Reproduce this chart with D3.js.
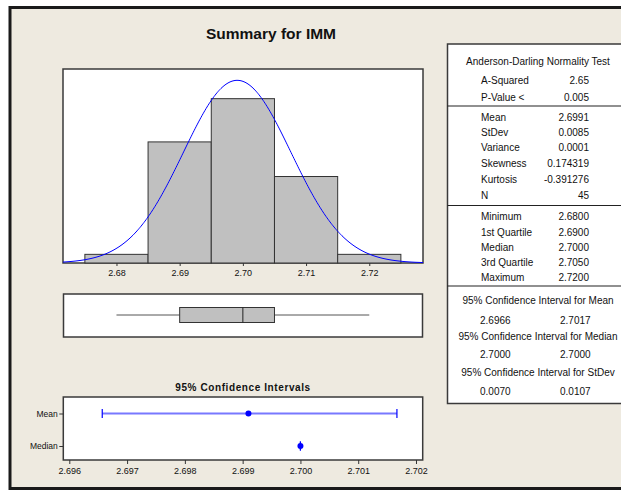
<!DOCTYPE html>
<html><head><meta charset="utf-8">
<script src="https://cdn.jsdelivr.net/npm/d3@7"></script>
<style>
html,body{margin:0;padding:0;background:#fff;}
text{font-family:"Liberation Sans",Arial,sans-serif;fill:#111;}
</style></head>
<body>
<svg id="chart" width="621" height="491"></svg>
<script>
// ---- data ----
const title = "Summary for IMM";
const binStarts = [2.675, 2.685, 2.695, 2.705, 2.715];
const binWidth = 0.01;
const binCounts = [1, 14, 19, 10, 1];
const histTicks = [2.68, 2.69, 2.70, 2.71, 2.72];
const meanVal = 2.6991, sdVal = 0.0085, nVal = 45;
const fiveNum = [2.68, 2.69, 2.70, 2.705, 2.72]; // min, Q1, median, Q3, max
const ciLabels = ["Mean", "Median"];
const ciCenters = [2.6991, 2.7000];
const ciLow = [2.69657, 2.7000];
const ciHigh = [2.70167, 2.7000];
const ciTicks = [2.696, 2.697, 2.698, 2.699, 2.700, 2.701, 2.702];
const adHeader = "Anderson-Darling Normality Test";
const adLabels = ["A-Squared", "P-Value <"];
const adValues = ["2.65", "0.005"];
const momLabels = ["Mean", "StDev", "Variance", "Skewness", "Kurtosis", "N"];
const momValues = ["2.6991", "0.0085", "0.0001", "0.174319", "-0.391276", "45"];
const qLabels = ["Minimum", "1st Quartile", "Median", "3rd Quartile", "Maximum"];
const qValues = ["2.6800", "2.6900", "2.7000", "2.7050", "2.7200"];
const ciTitles = ["95% Confidence Interval for Mean", "95% Confidence Interval for Median", "95% Confidence Interval for StDev"];
const ciPairs = [["2.6966", "2.7017"], ["2.7000", "2.7000"], ["0.0070", "0.0107"]];

// ---- drawing ----
const svg = d3.select("#chart");
const bg = "#EEEAE0";
svg.append("rect").attr("x",10).attr("y",7.5).attr("width",700).attr("height",481)
  .attr("fill",bg).attr("stroke","#1a1a1a").attr("stroke-width",3);

svg.append("text").attr("x",271).attr("y",39).attr("text-anchor","middle")
  .style("font-size","15.5px").style("font-weight","bold").text(title);

// Histogram
const hx = d3.scaleLinear().domain([2.67154, 2.72850]).range([63, 423]);
const hy = d3.scaleLinear().domain([0, 22.43]).range([263, 69]);
const frameStroke = "#3a3a3a";
svg.append("rect").attr("x",63).attr("y",69).attr("width",360).attr("height",194)
  .attr("fill","#fff").attr("stroke",frameStroke).attr("stroke-width",1.5);
svg.append("g").selectAll("rect").data(binStarts).join("rect")
  .attr("x",d=>hx(d)).attr("width",d=>hx(d+binWidth)-hx(d))
  .attr("y",(d,i)=>hy(binCounts[i])).attr("height",(d,i)=>hy(0)-hy(binCounts[i]))
  .attr("fill","#C0C0C0").attr("stroke","#333").attr("stroke-width",1);
// fitted normal curve
const xs = d3.range(0, 361).map(i => hx.invert(63 + i));
const dens = x => nVal*binWidth*Math.exp(-0.5*((x-meanVal)/sdVal)**2)/(sdVal*Math.sqrt(2*Math.PI));
svg.append("path").datum(xs)
  .attr("d", d3.line().x(d=>hx(d)).y(d=>hy(dens(d))))
  .attr("fill","none").attr("stroke","#0000FF").attr("stroke-width",1);
const hAxis = d3.axisBottom(hx).tickValues(histTicks).tickFormat(d3.format(".2f")).tickSize(3).tickSizeOuter(0);
const hg = svg.append("g").attr("transform","translate(0,263)").call(hAxis);
hg.select(".domain").remove();
hg.selectAll("line").attr("stroke","#333");
hg.selectAll("text").style("font-size","9px").attr("fill","#222").attr("y",7);

// Boxplot
svg.append("rect").attr("x",63.5).attr("y",294).attr("width",359).attr("height",43)
  .attr("fill","#fff").attr("stroke",frameStroke).attr("stroke-width",1.5);
const by = 315;
svg.append("line").attr("x1",hx(fiveNum[0])).attr("x2",hx(fiveNum[1])).attr("y1",by).attr("y2",by).attr("stroke","#555");
svg.append("line").attr("x1",hx(fiveNum[3])).attr("x2",hx(fiveNum[4])).attr("y1",by).attr("y2",by).attr("stroke","#555");
svg.append("rect").attr("x",hx(fiveNum[1])).attr("y",307.5).attr("width",hx(fiveNum[3])-hx(fiveNum[1])).attr("height",15)
  .attr("fill","#C0C0C0").attr("stroke","#333").attr("stroke-width",1);
svg.append("line").attr("x1",hx(fiveNum[2])).attr("x2",hx(fiveNum[2])).attr("y1",307.5).attr("y2",322.5).attr("stroke","#222");

// CI plot
const cx = d3.scaleLinear().domain([2.695896, 2.702116]).range([63.3, 422.7]);
const cy = d3.scalePoint().domain(ciLabels).range([413.5, 446]);
svg.append("text").attr("x",243).attr("y",391).attr("text-anchor","middle")
  .style("font-size","10px").style("font-weight","bold").style("letter-spacing","0.6px")
  .text("95% Confidence Intervals");
svg.append("rect").attr("x",63.3).attr("y",397).attr("width",359.4).attr("height",63)
  .attr("fill","#fff").attr("stroke",frameStroke).attr("stroke-width",1.5);
const cAxis = d3.axisBottom(cx).tickValues(ciTicks).tickFormat(d3.format(".3f")).tickSize(4).tickSizeOuter(0);
const cg = svg.append("g").attr("transform","translate(0,460)").call(cAxis);
cg.select(".domain").remove();
cg.selectAll("line").attr("stroke","#333");
cg.selectAll("text").style("font-size","9px").attr("fill","#222").attr("y",7.5);
const yAxis = d3.axisLeft(cy).tickSize(4).tickSizeOuter(0);
const yg = svg.append("g").attr("transform","translate(63.3,0)").call(yAxis);
yg.select(".domain").remove();
yg.selectAll("line").attr("stroke","#333");
yg.selectAll("text").style("font-size","8.5px").attr("fill","#222").attr("x",-5.5);
ciLabels.forEach((lab,i)=>{
  const y = cy(lab);
  svg.append("line").attr("x1",cx(ciLow[i])).attr("x2",cx(ciHigh[i])).attr("y1",y).attr("y2",y)
    .attr("stroke","#7878ff").attr("stroke-width",2);
  [ciLow[i], ciHigh[i]].forEach(v=>{
    svg.append("line").attr("x1",cx(v)).attr("x2",cx(v)).attr("y1",y-4.5).attr("y2",y+4.5)
      .attr("stroke","#0000FF").attr("stroke-width",1.2);
  });
  svg.append("circle").attr("cx",cx(ciCenters[i])).attr("cy",y).attr("r",3).attr("fill","#0000FF");
});

// Stats table
const tx0 = 447.5;
svg.append("rect").attr("x",tx0).attr("y",44).attr("width",300).attr("height",359.5)
  .attr("fill","#fff").attr("stroke",frameStroke).attr("stroke-width",1.5);
[106, 205.5, 286].forEach(y=>{
  svg.append("line").attr("x1",tx0).attr("x2",640).attr("y1",y).attr("y2",y).attr("stroke","#222").attr("stroke-width",1.2);
});
const tFont = "10px";
const labX = 481, valX = 589, ctrX = 538;
function row(lab, val, cyy){
  svg.append("text").attr("x",labX).attr("y",cyy+3.5).style("font-size",tFont).text(lab);
  svg.append("text").attr("x",valX).attr("y",cyy+3.5).attr("text-anchor","end").style("font-size",tFont).text(val);
}
svg.append("text").attr("x",ctrX).attr("y",64.5).attr("text-anchor","middle").style("font-size",tFont).text(adHeader);
const adY = [80, 97];
adLabels.forEach((l,i)=>row(l, adValues[i], adY[i]));
const momY = [117.5, 132.5, 147.5, 163, 179, 195];
momLabels.forEach((l,i)=>row(l, momValues[i], momY[i]));
const qY = [216.5, 232, 247.5, 262.5, 277];
qLabels.forEach((l,i)=>row(l, qValues[i], qY[i]));
const ctY = [300, 336, 372], cvY = [320, 354, 391.5];
ciTitles.forEach((t,i)=>{
  svg.append("text").attr("x",ctrX).attr("y",ctY[i]+3.5).attr("text-anchor","middle").style("font-size",tFont).text(t);
  svg.append("text").attr("x",480).attr("y",cvY[i]+3.5).style("font-size",tFont).text(ciPairs[i][0]);
  svg.append("text").attr("x",560).attr("y",cvY[i]+3.5).style("font-size",tFont).text(ciPairs[i][1]);
});
</script>
</body></html>
